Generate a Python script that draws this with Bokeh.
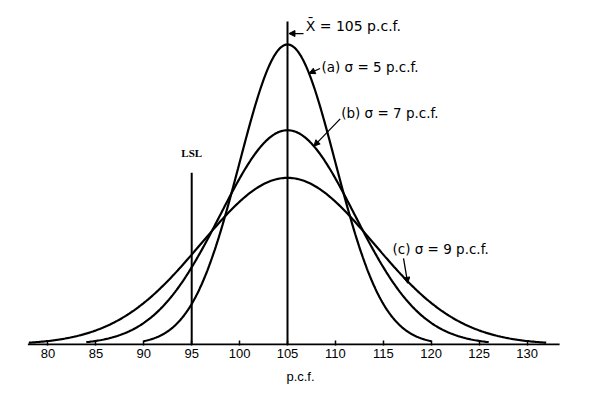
import numpy as np
from bokeh.plotting import figure
from bokeh.models import Range1d, FixedTicker, Arrow, NormalHead, ColumnDataSource
from bokeh.core.properties import value
from bokeh.embed import file_html
from bokeh.resources import INLINE

# ---- data ----
MEAN = 105.0
SIGMAS = [5, 7, 9]
CURVE_START = [90, 84, 78]
CURVE_END = [120, 126, 132]
LSL = 95
TICKS = [80, 85, 90, 95, 100, 105, 110, 115, 120, 125, 130]
CURVE_LABELS = ["(a) \u03c3 = 5 p.c.f.", "(b) \u03c3 = 7 p.c.f.", "(c) \u03c3 = 9 p.c.f."]
MEAN_LABEL = "X\u0304 = 105 p.c.f."
LSL_LABEL = "LSL"
X_LABEL = "p.c.f."

FONT = "DejaVu Sans"
TICK_FONT = "Liberation Sans"


def pdf(x, s):
    return np.exp(-0.5 * ((np.asarray(x) - MEAN) / s) ** 2) / (s * np.sqrt(2 * np.pi))


p = figure(width=600, height=399, output_backend="svg", toolbar_location=None,
           x_range=Range1d(75.042, 137.67), y_range=Range1d(-0.000266, 0.09149),
           y_axis_location=None, min_border_left=0, min_border_right=0,
           min_border_top=0, min_border_bottom=54)
p.outline_line_color = None
p.xgrid.visible = False
p.ygrid.visible = False
p.background_fill_color = "white"

ax = p.xaxis[0]
ax.ticker = FixedTicker(ticks=TICKS)
ax.axis_line_color = None
ax.major_tick_in = 5
ax.major_tick_out = 0
ax.major_tick_line_width = 1.5
ax.major_tick_line_color = "black"
ax.minor_tick_line_color = None
ax.major_label_text_font = TICK_FONT
ax.major_label_text_font_size = "13px"
ax.major_label_text_color = "black"
ax.major_label_standoff = 3
ax.axis_label = X_LABEL
ax.axis_label_text_font = TICK_FONT
ax.axis_label_text_font_size = "13px"
ax.axis_label_text_font_style = "normal"
ax.axis_label_text_color = "black"
ax.axis_label_standoff = 8

# baseline
p.line(x=[77.9, 133.4], y=[0, 0], line_color="black", line_width=2)

# curves
for s, a, b in zip(SIGMAS, CURVE_START, CURVE_END):
    xs = np.linspace(a, b, 300)
    p.line(x=xs, y=pdf(xs, s), line_color="black", line_width=2.2)

# vertical lines (mean and LSL)
p.segment(x0=[MEAN, LSL], y0=[0, 0], x1=[MEAN, LSL], y1=[0.0859, 0.0457],
          line_color="black", line_width=2)

# texts
p.text(x=[106.9], y=[0.0848], text=[MEAN_LABEL], text_font=value(FONT),
       text_font_size="14px", text_baseline="middle", text_align="left",
       text_color="black")
txt = ColumnDataSource(dict(
    x=[108.55, 110.6, 115.96],
    y=[0.0737, 0.0617, 0.0255],
    t=CURVE_LABELS,
))
p.text(x="x", y="y", text="t", source=txt, text_font=value(FONT),
       text_font_size="13.5px", text_baseline="middle", text_align="left",
       text_color="black")
p.text(x=[LSL], y=[0.0508], text=[LSL_LABEL], text_font=value("Liberation Serif"),
       text_font_size="11px", text_font_style="bold", text_baseline="middle",
       text_align="center", text_color="black")

# arrows
def arrow(x0, y0, x1, y1):
    p.add_layout(Arrow(end=NormalHead(size=6, fill_color="black", line_color="black"),
                       x_start=x0, y_start=y0, x_end=x1, y_end=y1,
                       line_color="black", line_width=1.3))

arrow(106.67, 0.0827, MEAN + 0.15, 0.0827)
xa = 107.25
arrow(108.4, 0.0734, xa, float(pdf(xa, SIGMAS[0])))
xb = 107.75
arrow(110.5, 0.0600, xb, float(pdf(xb, SIGMAS[1])))
xc = 117.55
arrow(117.11, 0.0229, xc, float(pdf(xc, SIGMAS[2])) - 0.0005)

open("out.html", "w").write(file_html(p, INLINE))
